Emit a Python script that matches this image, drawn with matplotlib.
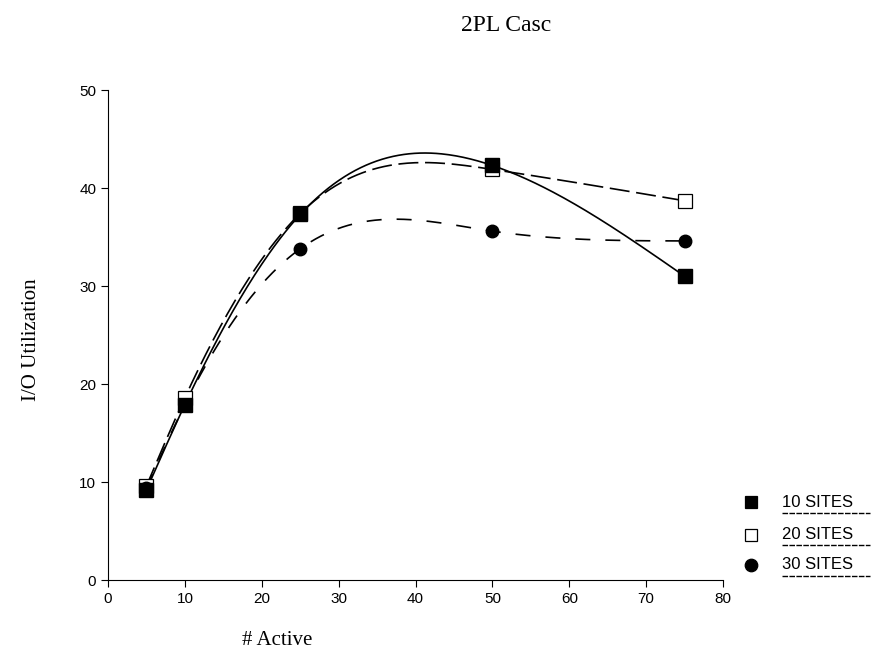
import numpy as np
import matplotlib
matplotlib.use('Agg')
import matplotlib.pyplot as plt
from matplotlib.lines import Line2D

# data
active = [5, 10, 25, 50, 75]
sites10 = [9.2, 17.9, 37.3, 42.3, 31.0]
sites20 = [9.6, 18.6, 37.4, 41.9, 38.7]
sites30 = [9.4, 17.9, 33.8, 35.6, 34.6]
labels = ['10 SITES', '20 SITES', '30 SITES']

fig = plt.figure(figsize=(8.81, 6.6), dpi=100)
ax = fig.add_axes([0.1226, 0.1212, 0.6981, 0.7424])


def spline(x, y, n=300):
    # natural cubic spline through the points
    x = np.asarray(x, float)
    y = np.asarray(y, float)
    k = len(x)
    h = np.diff(x)
    A = np.zeros((k, k))
    r = np.zeros(k)
    A[0, 0] = A[-1, -1] = 1
    for i in range(1, k - 1):
        A[i, i - 1] = h[i - 1]
        A[i, i] = 2 * (h[i - 1] + h[i])
        A[i, i + 1] = h[i]
        r[i] = 6 * ((y[i + 1] - y[i]) / h[i] - (y[i] - y[i - 1]) / h[i - 1])
    M = np.linalg.solve(A, r)
    xs = np.linspace(x[0], x[-1], n)
    j = np.clip(np.searchsorted(x, xs) - 1, 0, k - 2)
    t0 = x[j + 1] - xs
    t1 = xs - x[j]
    hj = h[j]
    ys = (M[j] * t0**3 + M[j + 1] * t1**3) / (6 * hj) \
        + (y[j] / hj - M[j] * hj / 6) * t0 + (y[j + 1] / hj - M[j + 1] * hj / 6) * t1
    return xs, ys


ax.plot(*spline(active, sites10), color='black', lw=1.2, ls='-')
ax.plot(*spline(active, sites20), color='black', lw=1.2, ls=(0, (12, 4)))
ax.plot(*spline(active, sites30), color='black', lw=1.2, ls=(0, (9, 9)))

ax.plot(active, sites20, ls='none', marker='s', ms=10, mfc='white', mec='black', mew=0.9)
ax.plot(active, sites10, ls='none', marker='s', ms=10, mfc='black', mec='black')
ax.plot(active, sites30, ls='none', marker='o', ms=9, mfc='black', mec='black')

ax.set_xlim(0, 80)
ax.set_ylim(0, 50)
ax.set_xticks(range(0, 81, 10))
ax.set_yticks(range(0, 51, 10))
ax.spines['top'].set_visible(False)
ax.spines['right'].set_visible(False)
ax.tick_params(direction='out', length=5, width=0.8, labelsize=11)
for t in ax.get_xticklabels() + ax.get_yticklabels():
    t.set_fontfamily('Liberation Sans')

fig.text(0.575, 0.962, '2PL Casc', family='Liberation Serif', fontsize=17, ha='center', va='center')
fig.text(0.036, 0.485, 'I/O Utilization', family='Liberation Serif', fontsize=15,
         rotation=90, ha='center', va='center')
fig.text(0.315, 0.03, '# Active', family='Liberation Serif', fontsize=15, ha='center', va='center')

# legend drawn by hand
ly = [0.239, 0.19, 0.144]
mk = [dict(marker='s', mfc='black'), dict(marker='s', mfc='white'), dict(marker='o', mfc='black')]
for y, lab, m in zip(ly, labels, mk):
    fig.add_artist(Line2D([0.852], [y], ls='none', ms=9, mec='black', mew=0.9, **m))
    fig.text(0.888, y, lab, family='Liberation Sans', fontsize=12, ha='left', va='center')
    fig.add_artist(Line2D([0.888, 0.988], [y - 0.016, y - 0.016], color='black', lw=1.0, ls=(0, (4, 1))))

fig.savefig('out.png', dpi=100)
